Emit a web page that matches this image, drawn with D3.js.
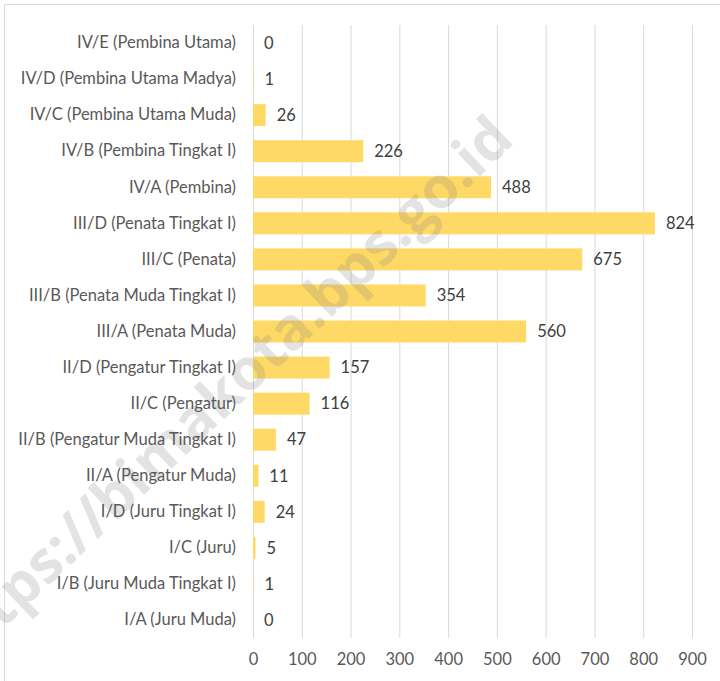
<!DOCTYPE html>
<html><head><meta charset="utf-8">
<script src="https://cdn.jsdelivr.net/npm/d3@7"></script>
<style>body{margin:0;background:#fff}svg{display:block}</style>
</head><body>
<script>
const categories = ["IV/E (Pembina Utama)","IV/D (Pembina Utama Madya)","IV/C (Pembina Utama Muda)","IV/B (Pembina Tingkat I)","IV/A (Pembina)","III/D (Penata Tingkat I)","III/C (Penata)","III/B (Penata Muda Tingkat I)","III/A (Penata Muda)","II/D (Pengatur Tingkat I)","II/C (Pengatur)","II/B (Pengatur Muda Tingkat I)","II/A (Pengatur Muda)","I/D (Juru Tingkat I)","I/C (Juru)","I/B (Juru Muda Tingkat I)","I/A (Juru Muda)"];
const values = [0,1,26,226,488,824,675,354,560,157,116,47,11,24,5,1,0];
const xTicks = [0,100,200,300,400,500,600,700,800,900];
const watermark = "https://bimakota.bps.go.id";

const W=720,H=681;
const font = "Lato, 'Open Sans', sans-serif";
const fs = 16.5;
const svg = d3.select("body").append("svg").attr("width",W).attr("height",H);
svg.append("rect").attr("x",4.5).attr("y",4.5).attr("width",W+10).attr("height",H+10).attr("fill","#fff").attr("stroke","#d9d9d9");

const x = d3.scaleLinear().domain([0,900]).range([253,692]);
const y = d3.scaleBand().domain(categories).range([25,638]).paddingInner(0.39).paddingOuter(0.195);

const grid = svg.append("g");
grid.selectAll("line").data(xTicks).join("line")
  .attr("x1",d=>x(d)+0.5).attr("x2",d=>x(d)+0.5).attr("y1",25).attr("y2",638)
  .attr("stroke","#d9d9d9").attr("stroke-width",1);

svg.append("g").selectAll("rect").data(values).join("rect")
  .attr("x",x(0)).attr("y",(d,i)=>y(categories[i])).attr("width",d=>x(d)-x(0)).attr("height",y.bandwidth())
  .attr("fill","#FFD966");

svg.append("text").attr("transform","translate(222,393) rotate(-43.5)")
  .attr("text-anchor","middle").attr("dy","0.35em")
  .attr("font-family","'Open Sans', sans-serif").attr("font-weight","bold").attr("font-size",58)
  .attr("fill","#7f7f7f").attr("fill-opacity",0.22).text(watermark);

svg.append("g").selectAll("text").data(values).join("text")
  .attr("x",d=>x(d)+11).attr("y",(d,i)=>y(categories[i])+y.bandwidth()/2).attr("dy","0.35em")
  .attr("font-family",font).attr("font-size",fs).attr("fill","#404040").text(d=>d);

const yAxis = svg.append("g").attr("transform",`translate(${x(0)},0)`)
  .call(d3.axisLeft(y).tickSize(0).tickPadding(17));
yAxis.select(".domain").remove();
yAxis.selectAll("text").attr("font-family",font).attr("font-size",fs).attr("fill","#595959");

const xAxis = svg.append("g").attr("transform","translate(0,648)")
  .call(d3.axisBottom(x).tickValues(xTicks).tickSize(0).tickPadding(5));
xAxis.select(".domain").remove();
xAxis.selectAll("text").attr("font-family",font).attr("font-size",fs).attr("fill","#595959");
</script>
</body></html>
